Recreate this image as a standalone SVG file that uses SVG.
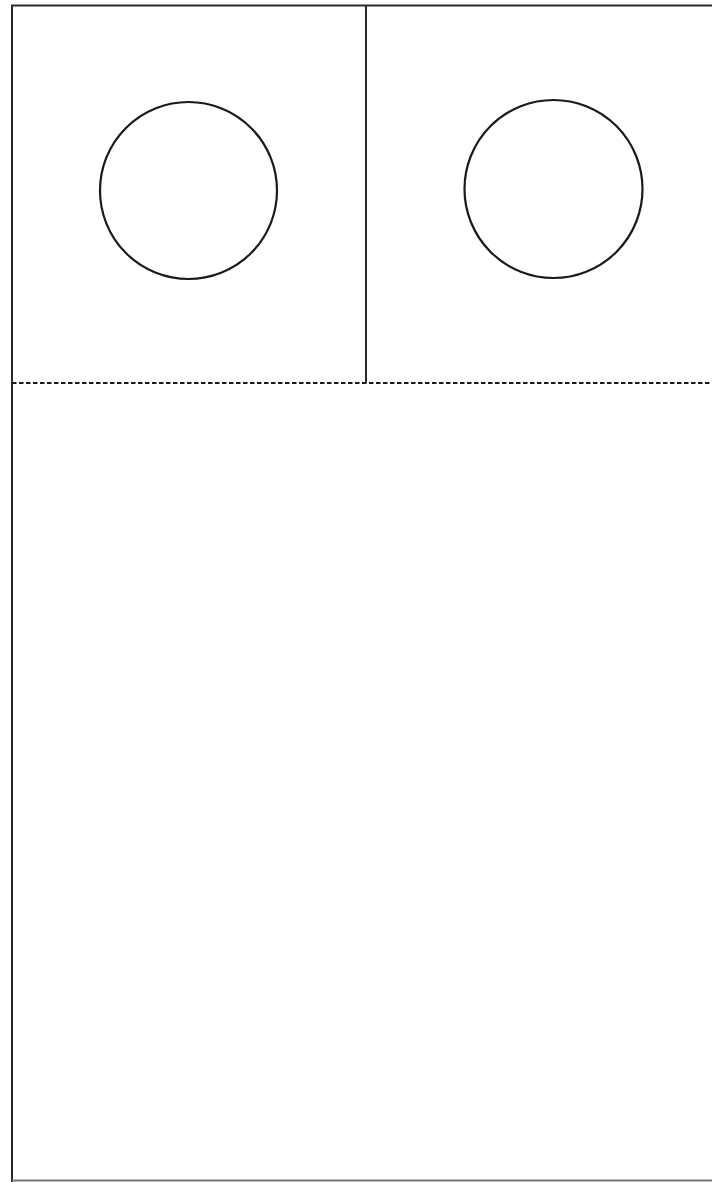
<svg xmlns="http://www.w3.org/2000/svg" width="712" height="1182" viewBox="0 0 712 1182">
<style>
.ln{stroke:#2a2a2a;stroke-width:2;fill:none}
.c{stroke:#1a1a1a;stroke-width:2.2;fill:none}
</style>
<rect width="712" height="1182" fill="#fff"/>
<g id="frame">
<path class="ln" d="M12,1182 V5.5 H712"/>
<path d="M12,1180.5 H712" stroke="#777" stroke-width="2" fill="none"/>
</g>
<g id="divider">
<line class="ln" x1="366" y1="5" x2="366" y2="383"/>
</g>
<g id="fold">
<line x1="12" y1="383" x2="712" y2="383" stroke="#1a1a1a" stroke-width="2.2" stroke-dasharray="4.5,2.5"/>
</g>
<g id="hole-left"><circle class="c" cx="188.5" cy="190.5" r="88.5"/></g>
<g id="hole-right"><circle class="c" cx="553.5" cy="189" r="89"/></g>
</svg>
